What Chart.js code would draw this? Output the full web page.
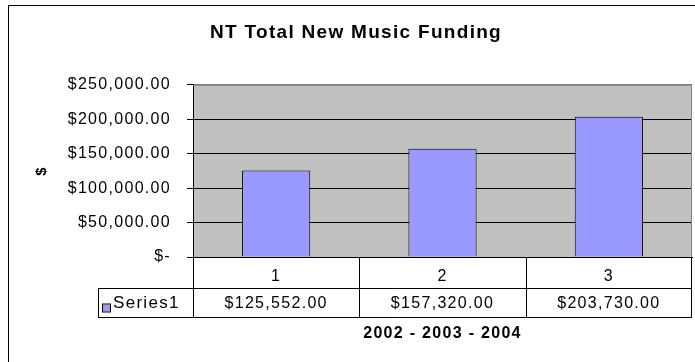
<!DOCTYPE html>
<html>
<head>
<meta charset="utf-8">
<title>NT Total New Music Funding</title>
<script src="https://cdn.jsdelivr.net/npm/chart.js@4.4.0/dist/chart.umd.min.js"></script>
<style>
  body { margin: 0; background: #fff; }
  #wrap { width: 695px; height: 362px; }
</style>
</head>
<body>
<div id="wrap"><canvas id="fundingChart"></canvas></div>
<script>
// funding per year, 2002 - 2004
const categories = ['1', '2', '3'];
const funding = [125552, 157320, 203730];
const seriesName = 'Series1';
const yMax = 250000;
const yStep = 50000;

const FONT = 'Arial, "Liberation Sans", sans-serif';
const SPACING = '1.3px';

function money(v) {
  if (v === 0) return '$-';
  return '$' + v.toLocaleString('en-US', { minimumFractionDigits: 2, maximumFractionDigits: 2 });
}

// slightly wider text, like the old spreadsheet rendering
const spacing = {
  id: 'spacing',
  beforeUpdate(chart) { chart.ctx.letterSpacing = SPACING; },
  beforeDraw(chart) { chart.ctx.letterSpacing = SPACING; }
};

// grey plot background + the outer frame
const backdrop = {
  id: 'backdrop',
  beforeDraw(chart) {
    const { ctx, chartArea: ca } = chart;
    ctx.save();
    ctx.fillStyle = '#fff';
    ctx.fillRect(0, 0, chart.width, chart.height);
    ctx.strokeStyle = '#000';
    ctx.lineWidth = 1;
    ctx.strokeRect(8.5, 5.5, chart.width + 20, chart.height + 20);
    ctx.fillStyle = '#c0c0c0';
    ctx.fillRect(ca.left, ca.top, ca.right - ca.left, ca.bottom - ca.top);
    ctx.restore();
  },
  afterDatasetsDraw(chart) {
    // right edge of the plot area
    const { ctx, chartArea: ca } = chart;
    ctx.save();
    ctx.strokeStyle = '#808080';
    ctx.lineWidth = 1;
    ctx.beginPath();
    ctx.moveTo(ca.left, ca.top + 0.5);
    ctx.lineTo(Math.round(ca.right) - 0.5, ca.top + 0.5);
    ctx.lineTo(Math.round(ca.right) - 0.5, ca.bottom);
    ctx.stroke();
    ctx.restore();
  }
};

// data table under the x axis
const dataTable = {
  id: 'dataTable',
  afterDraw(chart) {
    const { ctx, chartArea: ca } = chart;
    const xs = chart.scales.x;
    const n = categories.length;
    const colW = (ca.right - ca.left) / n;
    const row1Bottom = Math.round(ca.bottom) + 31;
    const row2Bottom = row1Bottom + 29;
    const keyLeft = 98;
    const R = Math.round(ca.right) - 0.5;

    ctx.save();
    ctx.strokeStyle = '#000';
    ctx.lineWidth = 1;
    ctx.beginPath();
    // column separators
    for (let i = 0; i <= n; i++) {
      const x = i === n ? R : Math.round(ca.left + i * colW) + 0.5;
      ctx.moveTo(x, ca.bottom);
      ctx.lineTo(x, row2Bottom + 0.5);
    }
    ctx.moveTo(keyLeft + 0.5, row1Bottom + 0.5);
    ctx.lineTo(keyLeft + 0.5, row2Bottom + 0.5);
    ctx.moveTo(keyLeft, row1Bottom + 0.5);
    ctx.lineTo(R, row1Bottom + 0.5);
    ctx.moveTo(keyLeft, row2Bottom + 0.5);
    ctx.lineTo(R, row2Bottom + 0.5);
    ctx.stroke();

    const midY = (row1Bottom + row2Bottom) / 2 + 1;
    ctx.letterSpacing = SPACING;
    ctx.font = '16px ' + FONT;
    ctx.fillStyle = '#000';
    ctx.textBaseline = 'middle';
    ctx.textAlign = 'center';
    funding.forEach((v, i) => {
      ctx.fillText(money(v), xs.getPixelForValue(i), midY);
    });

    // legend key
    ctx.fillStyle = '#9999ff';
    ctx.fillRect(103, midY + 1, 7, 7);
    ctx.strokeStyle = '#000';
    ctx.strokeRect(102.5, midY + 0.5, 8, 8);
    ctx.fillStyle = '#000';
    ctx.textAlign = 'left';
    ctx.font = '17px ' + FONT;
    ctx.fillText(seriesName, 113, midY);
    ctx.restore();
  }
};

new Chart(document.getElementById('fundingChart'), {
  type: 'bar',
  data: {
    labels: categories,
    datasets: [{
      label: seriesName,
      data: funding,
      backgroundColor: '#9999ff',
      borderColor: '#000',
      borderWidth: 1,
      categoryPercentage: 1,
      barPercentage: 0.41
    }]
  },
  options: {
    responsive: true,
    maintainAspectRatio: false,
    animation: false,
    devicePixelRatio: 1,
    layout: { padding: { left: 20, right: 3, top: 0, bottom: 0 } },
    plugins: {
      legend: { display: false },
      tooltip: { enabled: false },
      title: {
        display: true,
        text: 'NT Total New Music Funding',
        color: '#000',
        font: { family: FONT, size: 19, weight: 'bold' },
        padding: { top: 21, bottom: 41 }
      }
    },
    scales: {
      x: {
        grid: { display: false },
        border: { display: true, color: '#000' },
        ticks: { color: '#000', padding: 2, font: { family: FONT, size: 16 } },
        title: {
          display: true,
          text: '2002 - 2003 - 2004',
          color: '#000',
          font: { family: FONT, size: 16, weight: 'bold' },
          padding: { top: 0, bottom: 19 }
        },
        afterFit(scale) { scale.height = 105; }
      },
      y: {
        min: 0,
        max: yMax,
        ticks: {
          stepSize: yStep,
          color: '#000',
          padding: 16,
          font: { family: FONT, size: 16 },
          callback: (v) => money(v)
        },
        grid: {
          color: (c) => (c.tick && c.tick.value === yMax ? '#808080' : '#000'),
          tickColor: '#000',
          tickLength: 6,
          lineWidth: 1
        },
        border: { display: true, color: '#000' },
        title: {
          display: true,
          text: '$',
          color: '#000',
          font: { family: FONT, size: 15, weight: 'bold' },
          padding: { top: 13, bottom: 0 }
        },
        afterFit(scale) { scale.width = 173; }
      }
    }
  },
  plugins: [spacing, backdrop, dataTable]
});
</script>
</body>
</html>
